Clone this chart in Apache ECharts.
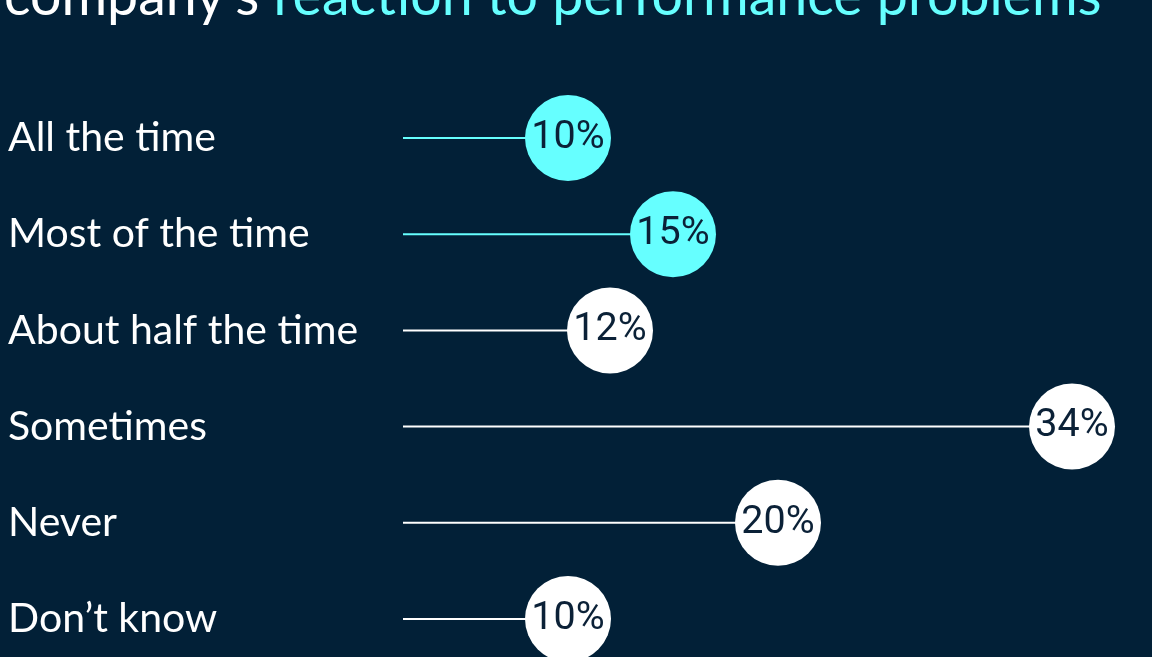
<!DOCTYPE html>
<html>
<head>
<meta charset="utf-8">
<script src="https://cdn.jsdelivr.net/npm/echarts@6/dist/echarts.min.js"></script>
<style>
  html, body { margin: 0; padding: 0; background: #022037; }
  #chart { width: 1152px; height: 657px; }
</style>
</head>
<body>
<div id="chart"></div>
<script>
// Survey answers, top to bottom
const categories = ['All the time', 'Most of the time', 'About half the time', 'Sometimes', 'Never', 'Don\u2019t know'];
const values = [10, 15, 12, 34, 20, 10];
const highlighted = [true, true, false, false, false, false];

const BG = '#022037';
const CYAN = '#66FFFF';
const WHITE = '#FFFFFF';
const INK = '#0B2137';
const FONT = 'Lato, "Open Sans", sans-serif';

const chart = echarts.init(document.getElementById('chart'));

const points = values.map((v, i) => ({
  value: [v, i],
  itemStyle: { color: highlighted[i] ? CYAN : WHITE, opacity: 1 }
}));

chart.setOption({
  backgroundColor: BG,
  animation: false,
  title: {
    left: -1,
    top: -36,
    text: '{a|company\u2019s }{b|reaction to performance problems}',
    textStyle: {
      rich: {
        a: { color: WHITE, fontSize: 55.5, fontWeight: 'normal', fontFamily: FONT },
        b: { color: CYAN, fontSize: 55.5, fontWeight: 'normal', fontFamily: FONT }
      }
    }
  },
  grid: { left: 358, right: 38, top: 90, height: 577, outerBoundsMode: 'none' },
  xAxis: {
    type: 'value', min: 0, max: 36,
    show: false
  },
  yAxis: {
    type: 'category',
    data: categories,
    inverse: true,
    axisLine: { show: false },
    axisTick: { show: false },
    splitLine: { show: false },
    axisLabel: {
      color: WHITE, fontSize: 41, fontFamily: FONT,
      align: 'left', margin: 350
    }
  },
  series: [
    {
      // stems from the label column to each dot
      type: 'custom',
      data: values.map((v, i) => [v, i]),
      renderItem: function (params, api) {
        const i = api.value(1);
        const end = api.coord([api.value(0), i]);
        const startX = params.coordSys.x + 45;
        return {
          type: 'line',
          shape: { x1: startX, y1: end[1], x2: end[0], y2: end[1] },
          style: { stroke: highlighted[i] ? CYAN : WHITE, lineWidth: 2 }
        };
      },
      z: 1
    },
    {
      type: 'scatter',
      data: points,
      symbolSize: 86,
      z: 2,
      label: {
        show: true,
        position: 'inside',
        formatter: p => p.value[0] + '%',
        color: INK,
        fontSize: 39.5,
        fontFamily: 'Roboto, sans-serif'
      }
    }
  ]
});
</script>
</body>
</html>
